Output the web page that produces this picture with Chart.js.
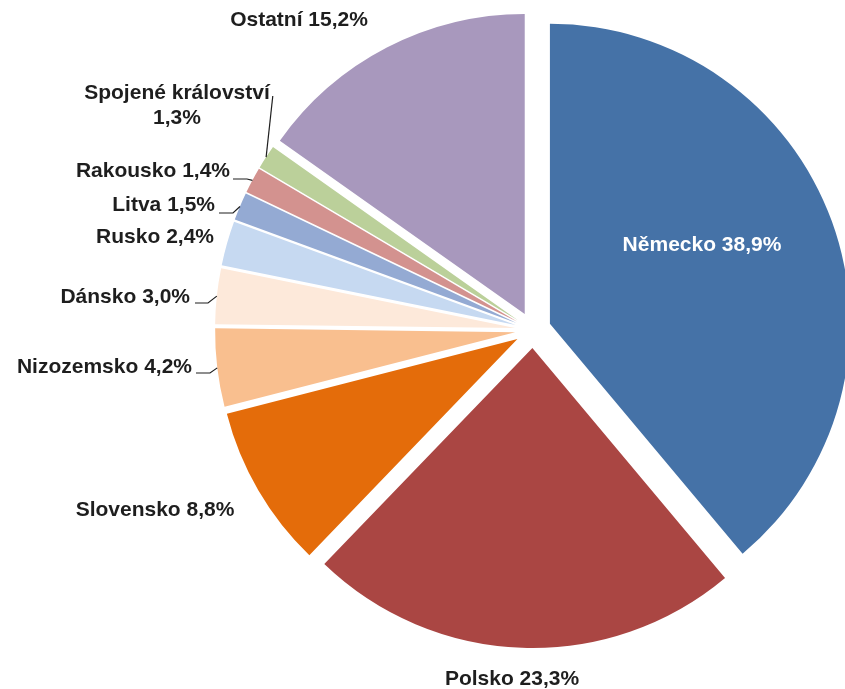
<!DOCTYPE html>
<html>
<head>
<meta charset="utf-8">
<script src="https://cdn.jsdelivr.net/npm/chart.js@4/dist/chart.umd.min.js"></script>
<style>
  html, body { margin: 0; padding: 0; background: #ffffff; overflow: hidden; }
  #wrap { position: absolute; left: 0; top: 0; width: 845px; height: 689px; }
</style>
</head>
<body>
<div id="wrap"><canvas id="c" width="845" height="689"></canvas></div>
<script>
// ---- data ----
const categories = ["Německo", "Polsko", "Slovensko", "Nizozemsko", "Dánsko", "Rusko", "Litva", "Rakousko", "Spojené království", "Ostatní"];
const shares = [38.9, 23.3, 8.8, 4.2, 3.0, 2.4, 1.5, 1.4, 1.3, 15.2];
const valueLabels = ["38,9%", "23,3%", "8,8%", "4,2%", "3,0%", "2,4%", "1,5%", "1,4%", "1,3%", "15,2%"];

// ---- styles ----
const sliceColors = ["#4572A7", "#AA4643", "#E46C0A", "#F9BF8F", "#FDE9DA", "#C6D9F1", "#94AAD3", "#D3928F", "#BBD09A", "#A898BD"];
const explodePx = 18;      // every slice pulled out from the centre by this much
const pieRadius = 300;

// label layout relative to pie centre
const labelLayout = [
  { dx: 169, dy: -85, align: "center", color: "#FFFFFF" },
  { dx: -21, dy: 349, align: "center" },
  { dx: -378, dy: 180, align: "center" },
  { dx: -341, dy: 37, align: "right", leader: { gap: 4, dy: 6, knee: 14 } },
  { dx: -343, dy: -33, align: "right", leader: { gap: 5, dy: 6, knee: 13 } },
  { dx: -319, dy: -93, align: "right" },
  { dx: -318, dy: -125, align: "right", leader: { gap: 4, dy: 8, knee: 14 } },
  { dx: -303, dy: -159, align: "right", leader: { gap: 3, dy: 8, knee: 14 } },
  { dx: -356, dy: -237, align: "center", twoLine: true, leader: { gap: 3, dy: 3, knee: 0 } },
  { dx: -234, dy: -310, align: "center" }
];

// pull every slice out along its mid-angle (Excel-style pie explosion)
const explodePlugin = {
  id: "explode",
  afterDatasetsUpdate(chart) {
    const meta = chart.getDatasetMeta(0);
    meta.data.forEach((arc) => {
      const mid = (arc.startAngle + arc.endAngle) / 2;
      arc.x += Math.cos(mid) * explodePx;
      arc.y += Math.sin(mid) * explodePx;
    });
  }
};

const labelPlugin = {
  id: "sliceLabels",
  afterDatasetsDraw(chart) {
    const ctx = chart.ctx;
    const meta = chart.getDatasetMeta(0);
    const ca = chart.chartArea;
    const pcx = (ca.left + ca.right) / 2, pcy = (ca.top + ca.bottom) / 2;
    ctx.save();
    ctx.font = "bold 21px 'Liberation Sans', Arial, sans-serif";
    ctx.textBaseline = "middle";
    meta.data.forEach((arc, i) => {
      const lay = labelLayout[i];
      const cx = pcx + lay.dx, cy = pcy + lay.dy;
      ctx.fillStyle = lay.color || "#1E1E1E";
      ctx.textAlign = lay.align;
      let rightX;
      if (lay.twoLine) {
        const t1 = categories[i], t2 = valueLabels[i];
        ctx.fillText(t1, cx, cy);
        ctx.fillText(t2, cx, cy + 25);
        rightX = cx + ctx.measureText(t1).width / 2;
      } else {
        const txt = categories[i] + " " + valueLabels[i];
        ctx.fillText(txt, cx, cy);
        const w = ctx.measureText(txt).width;
        rightX = lay.align === "right" ? cx : cx + w / 2;
      }
      if (lay.leader) {
        const mid = (arc.startAngle + arc.endAngle) / 2;
        const ex = arc.x + Math.cos(mid) * arc.outerRadius;
        const ey = arc.y + Math.sin(mid) * arc.outerRadius;
        const sx = rightX + lay.leader.gap, sy = cy + lay.leader.dy;
        ctx.strokeStyle = "#1E1E1E";
        ctx.lineWidth = 1.2;
        ctx.beginPath();
        ctx.moveTo(sx, sy);
        if (lay.leader.knee) ctx.lineTo(sx + lay.leader.knee, sy);
        ctx.lineTo(ex, ey);
        ctx.stroke();
      }
    });
    ctx.restore();
  }
};

new Chart(document.getElementById("c"), {
  type: "pie",
  data: {
    labels: categories,
    datasets: [{
      data: shares,
      backgroundColor: sliceColors,
      borderWidth: 0,
      offset: 0
    }]
  },
  options: {
    responsive: false,
    animation: false,
    radius: pieRadius,
    layout: { padding: { left: 221, right: 0, top: 0, bottom: 29 } },
    plugins: { legend: { display: false }, tooltip: { enabled: false } }
  },
  plugins: [explodePlugin, labelPlugin]
});
</script>
</body>
</html>
